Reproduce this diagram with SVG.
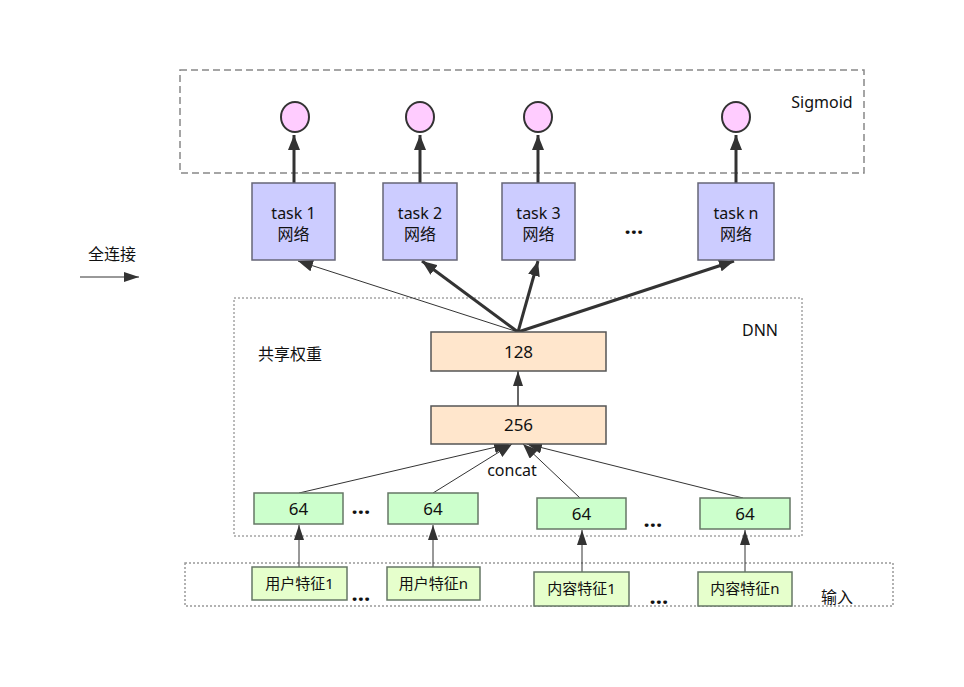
<svg xmlns="http://www.w3.org/2000/svg" width="964" height="687" viewBox="0 0 964 687">
<defs>
<style>
text{font-family:"Noto Sans","Noto Sans CJK SC",sans-serif;fill:#111;}
.t{font-size:16px;text-anchor:middle;}
.n{font-size:17px;text-anchor:middle;}
.f{font-size:15px;text-anchor:middle;}
.dots{font-size:22px;text-anchor:middle;font-weight:bold;}
.task{fill:#ccccff;stroke:#666677;stroke-width:1.5;}
.sig{fill:#ffccff;stroke:#333;stroke-width:2;}
.peach{fill:#ffe6cc;stroke:#555;stroke-width:1.5;}
.g64{fill:#ccffcc;stroke:#667766;stroke-width:1.5;}
.feat{fill:#e6ffcc;stroke:#667766;stroke-width:1.5;}
.thin{stroke:#333;stroke-width:1;fill:none;}
.mid{stroke:#333;stroke-width:1.5;fill:none;}
.thick{stroke:#333;stroke-width:3;fill:none;}
</style>
<marker id="ah" markerUnits="userSpaceOnUse" markerWidth="16" markerHeight="12" refX="15" refY="6" orient="auto">
<path d="M0,0 L15,6 L0,12 Z" fill="#333"/>
</marker>
<marker id="ahs" markerUnits="userSpaceOnUse" markerWidth="16" markerHeight="10" refX="15" refY="5" orient="auto">
<path d="M0,0 L15,5 L0,10 Z" fill="#333"/>
</marker>
</defs>
<rect width="964" height="687" fill="#fff"/>

<g id="containers">
<rect id="sigmoid-box" x="180" y="70" width="684" height="103" fill="none" stroke="#888" stroke-width="1.5" stroke-dasharray="7 4"/>
<rect id="dnn-box" x="234" y="298" width="568" height="238" fill="none" stroke="#777" stroke-width="1" stroke-dasharray="2 2"/>
<rect id="input-box" x="185" y="563" width="708" height="43" fill="none" stroke="#999" stroke-width="1.5" stroke-dasharray="2 2"/>
</g>

<g id="labels">
<text x="822" y="108" class="t">Sigmoid</text>
<text x="112" y="260" class="t">全连接</text>
<text x="760" y="336" class="t">DNN</text>
<text x="290" y="360" class="t">共享权重</text>
<text x="512" y="476" class="t">concat</text>
<text x="837" y="603" class="t">输入</text>
<text x="634" y="234" class="dots">…</text>
<text x="361" y="514" class="dots">…</text>
<text x="653" y="527" class="dots">…</text>
<text x="361" y="601" class="dots">…</text>
<text x="659" y="604" class="dots">…</text>
</g>

<g id="connectors">
<line x1="80" y1="277" x2="139" y2="277" class="thin" marker-end="url(#ahs)"/>
<line x1="294" y1="183" x2="294" y2="135" class="thick" marker-end="url(#ah)"/>
<line x1="420" y1="183" x2="420" y2="135" class="thick" marker-end="url(#ah)"/>
<line x1="538" y1="183" x2="538" y2="135" class="thick" marker-end="url(#ah)"/>
<line x1="736" y1="183" x2="736" y2="135" class="thick" marker-end="url(#ah)"/>
<line x1="518" y1="332" x2="298" y2="261" class="thin" marker-end="url(#ah)"/>
<line x1="518" y1="332" x2="422" y2="261" class="thick" marker-end="url(#ah)"/>
<line x1="518" y1="332" x2="538" y2="261" class="thick" marker-end="url(#ah)"/>
<line x1="518" y1="332" x2="734" y2="261" class="thick" marker-end="url(#ah)"/>
<line x1="518" y1="406" x2="518" y2="371" class="mid" marker-end="url(#ahs)"/>
<line x1="299" y1="493" x2="509" y2="444" class="thin" marker-end="url(#ah)"/>
<line x1="433" y1="493" x2="512" y2="444" class="thin" marker-end="url(#ah)"/>
<line x1="580" y1="498" x2="523" y2="444" class="thin" marker-end="url(#ah)"/>
<line x1="743" y1="498" x2="527" y2="444" class="thin" marker-end="url(#ah)"/>
<line x1="299" y1="567" x2="299" y2="525" class="thin" marker-end="url(#ahs)"/>
<line x1="433" y1="567" x2="433" y2="525" class="thin" marker-end="url(#ahs)"/>
<line x1="582" y1="572" x2="582" y2="530" class="thin" marker-end="url(#ahs)"/>
<line x1="745" y1="572" x2="745" y2="530" class="thin" marker-end="url(#ahs)"/>
</g>

<g id="sig1"><ellipse cx="295" cy="117" rx="14" ry="15" class="sig"/></g>
<g id="sig2"><ellipse cx="420" cy="117" rx="14" ry="15" class="sig"/></g>
<g id="sig3"><ellipse cx="538" cy="117" rx="14" ry="15" class="sig"/></g>
<g id="sign"><ellipse cx="736" cy="117" rx="14" ry="15" class="sig"/></g>

<g id="task1"><rect x="252" y="183" width="83" height="77" class="task"/><text x="293.5" y="219" class="t">task 1</text><text x="293.5" y="240" class="t">网络</text></g>
<g id="task2"><rect x="383" y="183" width="74" height="77" class="task"/><text x="420" y="219" class="t">task 2</text><text x="420" y="240" class="t">网络</text></g>
<g id="task3"><rect x="502" y="183" width="73" height="77" class="task"/><text x="538.5" y="219" class="t">task 3</text><text x="538.5" y="240" class="t">网络</text></g>
<g id="taskn"><rect x="698" y="183" width="76" height="77" class="task"/><text x="736" y="219" class="t">task n</text><text x="736" y="240" class="t">网络</text></g>

<g id="l128"><rect x="431" y="332" width="175" height="39" class="peach"/><text x="518.5" y="358" class="n">128</text></g>
<g id="l256"><rect x="431" y="406" width="175" height="38" class="peach"/><text x="518.5" y="431" class="n">256</text></g>

<g id="e1"><rect x="254" y="493" width="89" height="31" class="g64"/><text x="298.5" y="515" class="n">64</text></g>
<g id="e2"><rect x="388" y="493" width="90" height="31" class="g64"/><text x="433" y="515" class="n">64</text></g>
<g id="e3"><rect x="537" y="498" width="89" height="31" class="g64"/><text x="581.5" y="520" class="n">64</text></g>
<g id="e4"><rect x="700" y="498" width="90" height="31" class="g64"/><text x="745" y="520" class="n">64</text></g>

<g id="f1"><rect x="252" y="567" width="95" height="33" class="feat"/><text x="299.5" y="589" class="f">用户特征1</text></g>
<g id="f2"><rect x="387" y="567" width="93" height="33" class="feat"/><text x="433.5" y="589" class="f">用户特征n</text></g>
<g id="f3"><rect x="534" y="572" width="95" height="34" class="feat"/><text x="581.5" y="594" class="f">内容特征1</text></g>
<g id="f4"><rect x="698" y="572" width="94" height="34" class="feat"/><text x="745" y="594" class="f">内容特征n</text></g>
</svg>
